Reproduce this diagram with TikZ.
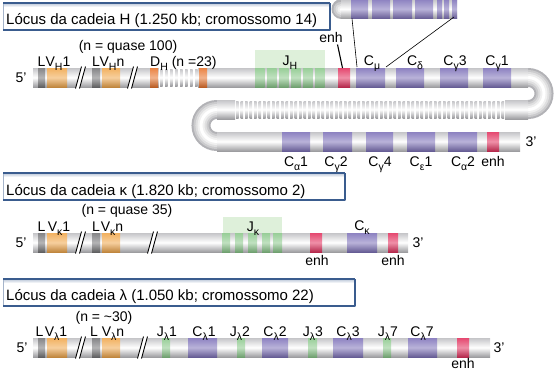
\documentclass[tikz,border=0pt]{standalone}
\usepackage{fontspec}
\setmainfont{Liberation Sans}
\definecolor{tubeE}{RGB}{178,178,182}
\definecolor{lgray}{RGB}{120,120,122}
\definecolor{vorange}{RGB}{240,168,78}
\definecolor{dorange}{RGB}{232,118,48}
\definecolor{jgreen}{RGB}{140,200,140}
\definecolor{cpurple}{RGB}{128,116,186}
\definecolor{epink}{RGB}{226,52,96}
\definecolor{boxgreen}{RGB}{222,240,218}
\definecolor{tblue}{RGB}{58,92,142}
\definecolor{tframe}{RGB}{165,180,202}
\newcommand\lowsub[1]{\raisebox{-0.3em}{\fontsize{10.5}{10.5}\selectfont #1}}
\newcommand\band[4]{\shade[top color=#4!90!white, bottom color=#4!80!black, middle color=#4!55!white] (#1,#3-9.5) rectangle (#2,#3+9.5);}
\newcommand\tubeh[3]{\shade[top color=tubeE!75!white, bottom color=tubeE!88!black, middle color=white] (#1,#3-9.5) rectangle (#2,#3+9.5);}
\newcommand\tuberibs[4]{\foreach \rx in {#1,#2,...,#3}{\shade[top color=tubeE!75!white, bottom color=tubeE!88!black, middle color=white] (\rx,#4-8.5) rectangle (\rx+2.6,#4+8.5);}}
\newcommand\brk[2]{%
  \fill[white] (#1-4.5,#2+11) -- (#1+1.5,#2-11) -- (#1+5.5,#2-11) -- (#1-0.5,#2+11) -- cycle;
  \draw[line width=0.9] (#1-4.5,#2+11) -- (#1+1.5,#2-11);
  \draw[line width=0.9] (#1-0.5,#2+11) -- (#1+5.5,#2-11);}
\newcommand\ubend[1]{\foreach \w/\c in {19/tubeE,15/tubeE!68!white,11/tubeE!42!white,7/tubeE!20!white,3/white}{\draw[line width=\w, draw=\c] #1;}}
\newcommand\tbox[3]{%
  \fill[white] (3,#1) rectangle (#3,#2);
  \shade[top color=tblue!35, bottom color=white] (3,#1) rectangle (#3,#1+4);
  \draw[tframe, line width=0.8] (3,#1) rectangle (#3,#2);
  \draw[tblue, line width=1.8] (3,#1) -- (#3,#1);
  \draw[tblue, line width=1.8] (3,#2) -- (#3,#2);
  \draw[tblue, line width=1.2] (#3,#1) -- (#3,#2);}
\begin{document}
\begin{tikzpicture}[x=1pt,y=-1pt,
  lab/.style={font=\fontsize{14}{16}\selectfont, inner sep=0pt, anchor=base},
  ttl/.style={font=\fontsize{15}{18}\selectfont, inner sep=0pt, anchor=base west},
  endlab/.style={font=\fontsize{14}{16}\selectfont, inner sep=0pt, anchor=center},
  conn/.style={draw=black, line width=0.6}]
\useasboundingbox (0,0) rectangle (557,372);

% ================= Heavy chain =================
\tbox{3}{30}{330}
\node[ttl] (tH) at (6,24) {Lócus da cadeia H (1.250 kb; cromossomo 14)};

% inset (C mu exons)
\foreach \w/\c in {19/tubeE,15/tubeE!68!white,11/tubeE!42!white,7/tubeE!20!white,3/white}{\draw[line width=\w, draw=\c, line cap=round] (343,9) -- (341,9);}
\tubeh{341}{457}{9}
\band{351}{368}{9}{cpurple}
\band{372}{390}{9}{cpurple}
\band{393}{412}{9}{cpurple}
\band{415}{433}{9}{cpurple}
\band{437}{442}{9}{cpurple}
\band{444}{449}{9}{cpurple}
\band{452}{457}{9}{cpurple}

% J_H label box
\fill[boxgreen] (255,50) rectangle (325,68);

% tube path
\ubend{(524,77.5) -- (528,77.5) .. controls (536.84,77.5) and (544,84.66) .. (544,93.5) .. controls (544,102.34) and (536.84,109.5) .. (528,109.5) -- (524,109.5)}
\ubend{(221,109.5) -- (217,109.5) .. controls (208.16,109.5) and (201,116.66) .. (201,125.5) .. controls (201,134.34) and (208.16,141.5) .. (217,141.5) -- (221,141.5)}
\tubeh{33}{528}{77.5}
\tubeh{505}{528}{109.5}
\tubeh{217}{235}{109.5}
\tubeh{217}{520}{141.5}
\tuberibs{236}{240.5}{503}{109.5}
\fill[white] (159,66) rectangle (198,89);
\tuberibs{160}{165}{195}{77.5}
\brk{80}{77.5}
\brk{132}{77.5}

\band{38}{45}{77.5}{lgray}
\band{47}{67}{77.5}{vorange}
\band{92}{100}{77.5}{lgray}
\band{102}{120}{77.5}{vorange}
\band{150}{158}{77.5}{dorange}
\band{199}{207}{77.5}{dorange}
\foreach \g in {255,267,...,315}{\band{\g}{\g+9.5}{77.5}{jgreen}}
\band{338}{350}{77.5}{epink}
\band{356}{385}{77.5}{cpurple}
\band{396}{424}{77.5}{cpurple}
\band{440}{468}{77.5}{cpurple}
\band{483}{511}{77.5}{cpurple}
\band{282}{310}{141.5}{cpurple}
\band{323}{352}{141.5}{cpurple}
\band{366}{393}{141.5}{cpurple}
\band{407}{435}{141.5}{cpurple}
\band{448}{477}{141.5}{cpurple}
\band{487}{499}{141.5}{epink}

\node[endlab] (h5) at (21,77.5) {5'};
\node[endlab] (h3) at (531,141.5) {3'};
\node[lab] (hL1) at (41.5,66) {L};
\node[lab] (hV1) at (58,66) {V\lowsub{H}1};
\node[lab] (hN) at (128,50) {(n = quase 100)};
\node[lab] (hL2) at (96,66) {L};
\node[lab] (hVn) at (112,66) {V\lowsub{H}n};
\node[lab, anchor=base west] (hD) at (150,66) {D\lowsub{H} (n =23)};
\node[lab] (hJ) at (290,65) {J\lowsub{H}};
\node[lab] (hE) at (331,42) {enh};
\node[lab] (hCm) at (372,65) {C\lowsub{μ}};
\node[lab] (hCd) at (415,65) {C\lowsub{δ}};
\node[lab] (hCg3) at (455,65) {C\lowsub{γ}3};
\node[lab] (hCg1) at (497,65) {C\lowsub{γ}1};
\node[lab] (hCa1) at (296,166) {C\lowsub{α}1};
\node[lab] (hCg2) at (336,166) {C\lowsub{γ}2};
\node[lab] (hCg4) at (380,166) {C\lowsub{γ}4};
\node[lab] (hCe1) at (421,166) {C\lowsub{ε}1};
\node[lab] (hCa2) at (463,166) {C\lowsub{α}2};
\node[lab] (hE2) at (493,166) {enh};

\coordinate (enhTop) at (342.5,68);
\coordinate (muL) at (357,67);
\coordinate (muR) at (386,67);
\coordinate (insL) at (352,18.5);
\coordinate (insR) at (454,17);
\draw[line width=1.1] (337.5,44.5) -- (enhTop);
\draw[conn] (insL) -- (muL);
\draw[conn] (insR) -- (muR);

% ================= Kappa chain =================
\tbox{173}{200}{345}
\node[ttl] (tK) at (6,195) {Lócus da cadeia κ (1.820 kb; cromossomo 2)};
\fill[boxgreen] (223,217) rectangle (282,233);
\tubeh{33}{408}{242.5}
\brk{80}{242.5}
\brk{152}{242.5}
\band{38}{45}{242.5}{lgray}
\band{47}{67}{242.5}{vorange}
\band{92}{100}{242.5}{lgray}
\band{102}{120}{242.5}{vorange}
\band{222}{230}{242.5}{jgreen}
\band{235}{243}{242.5}{jgreen}
\band{248}{257}{242.5}{jgreen}
\band{262}{270}{242.5}{jgreen}
\band{273}{282}{242.5}{jgreen}
\band{310}{322}{242.5}{epink}
\band{347}{377}{242.5}{cpurple}
\band{388}{398}{242.5}{epink}
\node[endlab] (k5) at (21,242.5) {5'};
\node[endlab] (k3) at (418,242.5) {3'};
\node[lab] (kL1) at (41.5,231) {L};
\node[lab] (kV1) at (59,231) {V\lowsub{κ}1};
\node[lab] (kN) at (127,214) {(n = quase 35)};
\node[lab] (kL2) at (96,231) {L};
\node[lab] (kVn) at (112,231) {V\lowsub{κ}n};
\node[lab] (kJ) at (253,231) {J\lowsub{κ}};
\node[lab] (kC) at (362,230) {C\lowsub{κ}};
\node[lab] (kE1) at (317,265) {enh};
\node[lab] (kE2) at (393,265) {enh};

% ================= Lambda chain =================
\tbox{279}{306}{355}
\node[ttl] (tL) at (6,300) {Lócus da cadeia λ (1.050 kb; cromossomo 22)};
\tubeh{33}{490}{347.5}
\brk{80}{347.5}
\brk{142}{347.5}
\band{38}{45}{347.5}{lgray}
\band{47}{67}{347.5}{vorange}
\band{92}{100}{347.5}{lgray}
\band{102}{120}{347.5}{vorange}
\band{162}{170}{347.5}{jgreen}
\band{188}{217}{347.5}{cpurple}
\band{237}{245}{347.5}{jgreen}
\band{262}{288}{347.5}{cpurple}
\band{308}{317}{347.5}{jgreen}
\band{333}{363}{347.5}{cpurple}
\band{383}{391}{347.5}{jgreen}
\band{408}{437}{347.5}{cpurple}
\band{457}{469}{347.5}{epink}
\node[endlab] (l5) at (22,347.5) {5'};
\node[endlab] (l3) at (499,347.5) {3'};
\node[lab] (lL1) at (39.5,336) {L};
\node[lab] (lV1) at (56,336) {V\lowsub{λ}1};
\node[lab] (lN) at (104,321) {(n = \textasciitilde 30)};
\node[lab] (lL2) at (94,336) {L};
\node[lab] (lVn) at (113,336) {V\lowsub{λ}n};
\node[lab] (lJ1) at (167,336) {J\lowsub{λ}1};
\node[lab] (lC1) at (204,336) {C\lowsub{λ}1};
\node[lab] (lJ2) at (240,336) {J\lowsub{λ}2};
\node[lab] (lC2) at (275,336) {C\lowsub{λ}2};
\node[lab] (lJ3) at (313,336) {J\lowsub{λ}3};
\node[lab] (lC3) at (348,336) {C\lowsub{λ}3};
\node[lab] (lJ7) at (388,336) {J\lowsub{λ}7};
\node[lab] (lC7) at (422,336) {C\lowsub{λ}7};
\node[lab] (lE) at (463,368.5) {enh};
\end{tikzpicture}
\end{document}
